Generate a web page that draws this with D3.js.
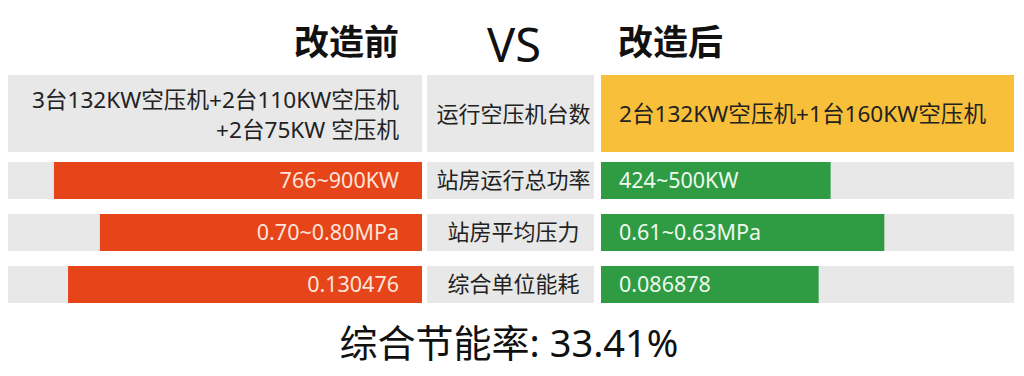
<!DOCTYPE html>
<html>
<head>
<meta charset="utf-8">
<script src="https://cdn.jsdelivr.net/npm/d3@7"></script>
<style>
  body { margin: 0; background: #fff; }
  svg text { font-family: "Noto Sans", "Noto Sans CJK SC", sans-serif; }
</style>
</head>
<body>
<div id="chart"></div>
<script>
// Data
const headers = ["改造前", "VS", "改造后"];
const unitRowLabel = "运行空压机台数";
const unitBefore = ["3台132KW空压机+2台110KW空压机", "+2台75KW 空压机"];
const unitAfter = "2台132KW空压机+1台160KW空压机";

const metrics = ["站房运行总功率", "站房平均压力", "综合单位能耗"];
const beforeLabels = ["766~900KW", "0.70~0.80MPa", "0.130476"];
const afterLabels = ["424~500KW", "0.61~0.63MPa", "0.086878"];
// bar length as share of the track
const beforeShare = [0.889, 0.778, 0.855];
const afterShare = [0.556, 0.686, 0.527];
const summary = "综合节能率: 33.41%";

const width = 1024, height = 376;

const svg = d3.select("#chart")
    .append("svg")
    .attr("width", width)
    .attr("height", height);

// Scales
const xLeft = d3.scaleLinear().domain([0, 1]).range([422, 8]);
const xRight = d3.scaleLinear().domain([0, 1]).range([601, 1014]);
const mid = {x0: 427, x1: 594};

const y = d3.scaleBand()
    .domain(metrics)
    .range([162, 303])
    .paddingInner(15 / 52)
    .paddingOuter(0);

const gray = "#e8e8e8", red = "#e64419", green = "#2f9c43", gold = "#f8bf3a";

// Headers
svg.append("text")
    .attr("x", 399).attr("y", 55)
    .attr("text-anchor", "end")
    .style("font-size", "35px").style("font-weight", "bold").style("fill", "#111")
    .text(headers[0]);
svg.append("text")
    .attr("x", 514).attr("y", 62)
    .attr("text-anchor", "middle")
    .style("font-size", "47px").style("font-weight", "normal").style("fill", "#111")
    .text(headers[1]);
svg.append("text")
    .attr("x", 618).attr("y", 55)
    .attr("text-anchor", "start")
    .style("font-size", "35px").style("font-weight", "bold").style("fill", "#111")
    .text(headers[2]);

// Row 1: units
const r1 = {y0: 75, y1: 152};
svg.append("rect")
    .attr("x", xLeft(1)).attr("y", r1.y0)
    .attr("width", xLeft(0) - xLeft(1)).attr("height", r1.y1 - r1.y0)
    .attr("fill", gray);
svg.append("rect")
    .attr("x", mid.x0).attr("y", r1.y0)
    .attr("width", mid.x1 - mid.x0).attr("height", r1.y1 - r1.y0)
    .attr("fill", gray);
svg.append("rect")
    .attr("x", xRight(0)).attr("y", r1.y0)
    .attr("width", xRight(1) - xRight(0)).attr("height", r1.y1 - r1.y0)
    .attr("fill", gold);

svg.selectAll(".unitBefore")
    .data(unitBefore)
    .join("text")
    .attr("x", 399)
    .attr("y", (d, i) => 108 + i * 30)
    .attr("text-anchor", "end")
    .style("font-size", "22.6px").style("fill", "#222")
    .text(d => d);
svg.append("text")
    .attr("x", (mid.x0 + mid.x1) / 2 + 3).attr("y", 122)
    .attr("text-anchor", "middle")
    .style("font-size", "22px").style("fill", "#222")
    .text(unitRowLabel);
svg.append("text")
    .attr("x", 619).attr("y", 122)
    .style("font-size", "22.6px").style("fill", "#222")
    .text(unitAfter);

// Metric rows
const rows = svg.selectAll(".row")
    .data(metrics)
    .join("g")
    .attr("class", "row");

// gray tracks
rows.append("rect")
    .attr("x", xLeft(1)).attr("y", d => y(d))
    .attr("width", xLeft(0) - xLeft(1)).attr("height", y.bandwidth())
    .attr("fill", gray);
rows.append("rect")
    .attr("x", mid.x0).attr("y", d => y(d))
    .attr("width", mid.x1 - mid.x0).attr("height", y.bandwidth())
    .attr("fill", gray);
rows.append("rect")
    .attr("x", xRight(0)).attr("y", d => y(d))
    .attr("width", xRight(1) - xRight(0)).attr("height", y.bandwidth())
    .attr("fill", gray);

// bars
rows.append("rect")
    .attr("x", (d, i) => xLeft(beforeShare[i])).attr("y", d => y(d))
    .attr("width", (d, i) => xLeft(0) - xLeft(beforeShare[i])).attr("height", y.bandwidth())
    .attr("fill", red);
rows.append("rect")
    .attr("x", xRight(0)).attr("y", d => y(d))
    .attr("width", (d, i) => xRight(afterShare[i]) - xRight(0)).attr("height", y.bandwidth())
    .attr("fill", green);

// labels
rows.append("text")
    .attr("x", 399).attr("y", d => y(d) + y.bandwidth() / 2)
    .attr("dy", "0.36em")
    .attr("text-anchor", "end")
    .style("font-size", "21.5px").style("fill", "#fde3d9")
    .text((d, i) => beforeLabels[i]);
rows.append("text")
    .attr("x", (mid.x0 + mid.x1) / 2 + 3).attr("y", d => y(d) + y.bandwidth() / 2)
    .attr("dy", "0.36em")
    .attr("text-anchor", "middle")
    .style("font-size", "22px").style("fill", "#222")
    .text(d => d);
rows.append("text")
    .attr("x", 619).attr("y", d => y(d) + y.bandwidth() / 2)
    .attr("dy", "0.36em")
    .style("font-size", "21.5px").style("fill", "#eef8ee")
    .text((d, i) => afterLabels[i]);

// Summary
svg.append("text")
    .attr("x", 509).attr("y", 357)
    .attr("text-anchor", "middle")
    .style("font-size", "38px").style("font-weight", "normal").style("fill", "#111")
    .text(summary);
</script>
</body>
</html>
